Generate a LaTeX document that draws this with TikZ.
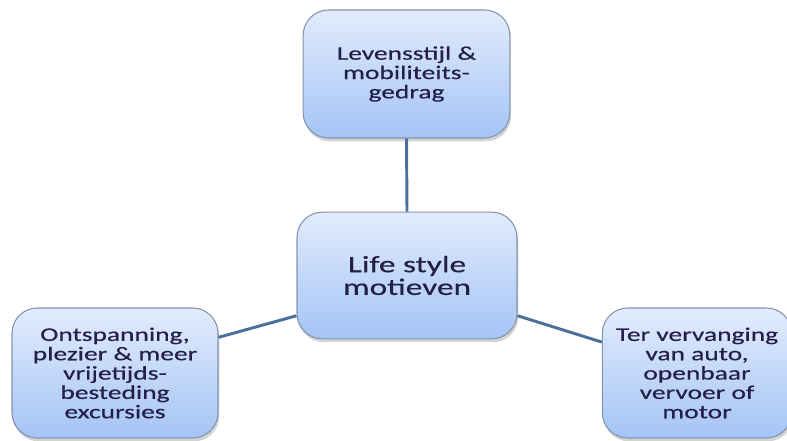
\documentclass[tikz,border=0pt]{standalone}
\usepackage{fontspec}
\setmainfont{Carlito}[FakeStretch=1.42,FakeBold=0.4]
\usepackage{xcolor}
\usetikzlibrary{shadows}
\definecolor{boxtop}{HTML}{E2ECFC}
\definecolor{boxbot}{HTML}{A4C4F6}
\definecolor{boxline}{HTML}{8494B0}
\definecolor{linkblue}{HTML}{4A6F9C}
\definecolor{txt}{HTML}{241E48}

\begin{document}
\begin{tikzpicture}[x=0.75pt,y=-0.75pt,
   bubble/.style={draw=boxline,line width=0.8pt,rounded corners=19pt,top color=boxtop,bottom color=boxbot,
     drop shadow={shadow xshift=1pt,shadow yshift=-2.5pt,opacity=0.35},
     align=center,text=txt,font=\fontsize{14.5}{14.5}\selectfont,inner sep=2pt},
   link/.style={draw=linkblue,line width=2.2pt}]
  \useasboundingbox (0,0) rectangle (787,441);
  % centre and the three motives around it
  \node[bubble,minimum width=165pt,minimum height=95pt,font=\fontsize{17.6}{17}\selectfont] (ctr) at (407,275.5) {Life style\\motieven};
  \node[bubble,minimum width=155pt,minimum height=96pt] (top) at (406.5,74) {Levensstijl \&\\mobiliteits-\\gedrag};
  \node[bubble,minimum width=154.5pt,minimum height=97.5pt] (lft) at (115,373) {Ontspanning,\\plezier \& meer\\vrijetijds-\\besteding\\excursies};
  \node[bubble,minimum width=142pt,minimum height=97.5pt] (rgt) at (697,373) {Ter vervanging\\van auto,\\openbaar\\vervoer of\\motor};
  % connectors
  \draw[link] (ctr.north) -- (top.south);
  \draw[link] (ctr.200) -- (lft.19);
  \draw[link] (ctr.340) -- (rgt.162);
\end{tikzpicture}
\end{document}
